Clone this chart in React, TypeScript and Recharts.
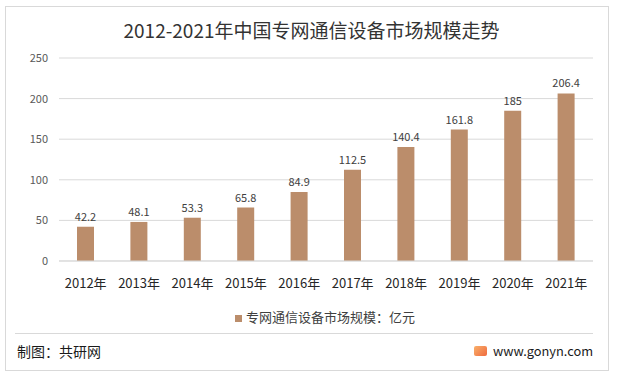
import { BarChart, Bar, XAxis, YAxis, CartesianGrid, Legend, LabelList } from 'recharts';

const years = ['2012年', '2013年', '2014年', '2015年', '2016年', '2017年', '2018年', '2019年', '2020年', '2021年'];
const marketSize = [42.2, 48.1, 53.3, 65.8, 84.9, 112.5, 140.4, 161.8, 185, 206.4];
const yTicks = [0, 50, 100, 150, 200, 250];

const seriesName = '专网通信设备市场规模：亿元';
const font = '"Noto Sans CJK SC", "Noto Sans", sans-serif';

const data = years.map((year, i) => ({ year, value: marketSize[i] }));

export default function App() {
  return (
    <div
      style={{
        position: 'absolute',
        left: 0,
        top: 0,
        width: 618,
        height: 378,
        background: '#fff',
        fontFamily: font,
      }}
    >
      <div
        style={{
          position: 'absolute',
          left: 5,
          top: 6,
          width: 604,
          height: 365,
          boxSizing: 'border-box',
          border: '1px solid #d9d9d9',
        }}
      />
      <div
        style={{
          position: 'absolute',
          left: 0,
          top: 17,
          width: 623,
          textAlign: 'center',
          fontSize: 19,
          lineHeight: '26px',
          color: '#333',
        }}
      >
        2012-2021年中国专网通信设备市场规模走势
      </div>

      <div style={{ position: 'absolute', left: 0, top: 0 }}>
        <BarChart
          width={618}
          height={378}
          data={data}
          margin={{ top: 58, right: 25, left: 0, bottom: 87 }}
          style={{ fontFamily: font }}
        >
          <CartesianGrid vertical={false} stroke="#d9d9d9" />
          <XAxis
            dataKey="year"
            axisLine={{ stroke: '#d9d9d9' }}
            tickLine={false}
            tickMargin={12}
            tick={{ fontSize: 13, fill: '#262626' }}
            interval={0}
          />
          <YAxis
            width={59}
            domain={[0, 250]}
            ticks={yTicks}
            axisLine={false}
            tickLine={false}
            tickMargin={5}
            tick={{ fontSize: 11, fill: '#595959' }}
          />
          <Legend
            layout="horizontal"
            verticalAlign="middle"
            align="center"
            iconType="square"
            iconSize={7}
            wrapperStyle={{ top: 307, left: 63, width: 534, fontSize: 13 }}
            formatter={(v) => <span style={{ color: '#404040' }}>{v}</span>}
          />
          <Bar dataKey="value" name={seriesName} fill="#bb8d6b" barSize={17} isAnimationActive={false}>
            <LabelList dataKey="value" position="top" offset={6} style={{ fontSize: 11, fill: '#404040' }} />
          </Bar>
        </BarChart>
      </div>

      <div style={{ position: 'absolute', left: 15, top: 333, width: 578, height: 1, background: '#d9d9d9' }} />
      <div
        style={{
          position: 'absolute',
          left: 17,
          top: 341,
          fontSize: 14,
          lineHeight: '20px',
          color: '#1a1a1a',
        }}
      >
        制图：共研网
      </div>
      <div
        style={{
          position: 'absolute',
          left: 474,
          top: 346,
          width: 13,
          height: 10,
          borderRadius: 2,
          background: 'linear-gradient(135deg, #f9b06a, #ef6a3f)',
        }}
      />
      <div
        style={{
          position: 'absolute',
          left: 493,
          top: 341,
          fontSize: 12.8,
          lineHeight: '20px',
          color: '#1a1a1a',
        }}
      >
        www.gonyn.com
      </div>
    </div>
  );
}
